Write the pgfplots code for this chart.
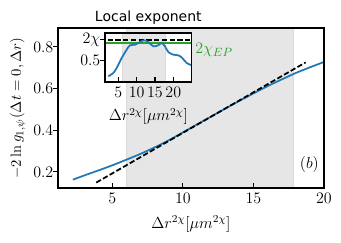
\documentclass[border=0pt]{standalone}
\usepackage{fontspec}
\usepackage{pgfplots}
\pgfplotsset{compat=1.18}
\newfontfamily\djv{DejaVu Sans}
\definecolor{mplblue}{HTML}{1F77B4}
\definecolor{mplgreen}{HTML}{2CA02C}
\definecolor{shade}{HTML}{E6E6E6}
\newcommand{\tfont}{\fontsize{12.5}{14}\selectfont}
\newcommand{\lfont}{\fontsize{12}{14}\selectfont}
\begin{document}
\begin{tikzpicture}
\begin{axis}[
  at={(0,0)}, anchor=south west,
  scale only axis, width=199.5pt, height=120pt,
  xmin=1.15, xmax=20, ymin=0.123, ymax=0.891,
  xtick={5,10,15,20}, ytick={0.2,0.4,0.6,0.8},
  yticklabels={$0.2$,$0.4$,$0.6$,$0.8$},
  xtick pos=bottom, ytick pos=left,
  tick align=inside, major tick length=3.5pt,
  y tick style={xshift=-3.5pt},
  tick style={black, line width=0.8pt},
  axis line style={line width=0.8pt},
  tick label style={font=\tfont},
  xlabel={$\Delta r^{2\chi}[\mu m^{2\chi}]$},
  ylabel={$-2\ln g_{1,\psi}(\Delta t=0,\Delta r)$},
  xlabel style={font=\lfont, yshift=-2.5pt},
  ylabel style={font=\fontsize{11}{13}\selectfont, yshift=-1pt},
  axis on top,
  clip mode=individual,
]
\addplot[fill=shade, draw=black!14, line width=0.4pt] coordinates {(6,0) (6,1) (17.8,1) (17.8,0)} -- cycle;
\addplot[mplblue, line width=1.3pt, smooth] coordinates {
(2.2,0.163) (3,0.183) (4,0.207) (5,0.232) (6,0.259) (7,0.287) (8,0.318) (9,0.352)
(10,0.390) (11,0.428) (12,0.466) (13,0.504) (14,0.541) (15,0.577) (16,0.612)
(17,0.644) (18,0.675) (19,0.702) (20,0.728)};
\addplot[black, line width=1.3pt, dash pattern=on 4pt off 1.8pt] coordinates {(3.86,0.149) (18.7,0.726)};
\node[font=\lfont] at (axis cs:18.96,0.234) {$(b)$};
\end{axis}
\begin{axis}[
  at={(35.25pt,79.5pt)}, anchor=south west,
  scale only axis, width=65pt, height=36.75pt,
  xmin=1.38, xmax=25, ymin=0.216, ymax=0.869,
  xtick={5,10,15,20}, ytick={0.5,0.78},
  yticklabels={$0.5$,$2\chi$},
  xtick pos=bottom, ytick pos=left,
  tick align=inside, major tick length=3.5pt,
  y tick style={xshift=-3.5pt},
  tick style={black, line width=0.8pt},
  axis line style={line width=0.8pt},
  tick label style={font=\tfont},
  xlabel={$\Delta r^{2\chi}[\mu m^{2\chi}]$},
  xlabel style={font=\lfont, yshift=-1.5pt},
  axis background/.style={fill=white},
  axis on top,
  clip mode=individual,
]
\addplot[fill=shade, draw=black!14, line width=0.4pt] coordinates {(6,0) (6,1) (17.8,1) (17.8,0)} -- cycle;
\addplot[black, line width=1.3pt, dash pattern=on 4pt off 1.8pt] coordinates {(0,0.78) (30,0.78)};
\addplot[mplgreen, line width=1.3pt] coordinates {(0,0.732) (30,0.732)};
\addplot[mplblue, line width=1.3pt, smooth] coordinates {
(2.28,0.292) (3.64,0.336) (4.56,0.403) (5.93,0.536) (7.29,0.647) (8.19,0.705)
(9.55,0.713) (10.91,0.749) (12.08,0.772) (13.17,0.749) (14.53,0.692) (15.89,0.705)
(16.83,0.736) (17.72,0.692) (18.62,0.616) (19.99,0.58) (21.35,0.572) (22.44,0.536)
(23.64,0.469) (25.0,0.439)};
\node[anchor=base, inner sep=0pt] at (rel axis cs:0.5,1) [yshift=8.5pt] {\fontsize{10.5}{12}\selectfont\djv Local exponent};
\end{axis}
\node[anchor=base west, inner sep=0pt, text=mplgreen, font=\fontsize{13}{15}\selectfont] at (102.75pt,101.0pt) {$2\chi_{EP}$};
\pgfresetboundingbox
\useasboundingbox (-43.5pt,-40.5pt) rectangle (212.25pt,141pt);
\end{tikzpicture}
\end{document}
